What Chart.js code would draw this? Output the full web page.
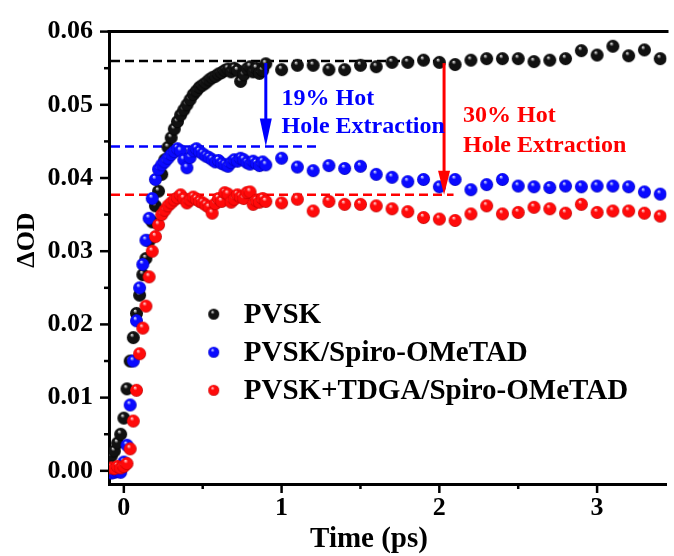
<!DOCTYPE html>
<html>
<head>
<meta charset="utf-8">
<script src="https://cdn.jsdelivr.net/npm/chart.js@4.4.1/dist/chart.umd.min.js"></script>
<style>
  html, body { margin: 0; padding: 0; background: #fff; overflow: hidden; }
  canvas { display: block; }
</style>
</head>
<body>
<canvas id="odChart" width="674" height="556"></canvas>
<script>
// time axis (ps): dense scan near zero, then 0.1 ps steps
const times = [
    -0.08, -0.06, -0.04, -0.02, 0.0, 0.02, 0.04, 0.06, 0.08, 0.1,
    0.12, 0.14, 0.16, 0.18, 0.2, 0.22, 0.24, 0.26, 0.28, 0.3,
    0.32, 0.34, 0.36, 0.38, 0.4, 0.42, 0.44, 0.46, 0.48, 0.5,
    0.52, 0.54, 0.56, 0.58, 0.6, 0.62, 0.64, 0.66, 0.68, 0.7,
    0.72, 0.74, 0.76, 0.78, 0.8, 0.82, 0.84, 0.86, 0.88, 0.9,
    1.0, 1.1, 1.2, 1.3, 1.4, 1.5, 1.6, 1.7, 1.8, 1.9,
    2.0, 2.1, 2.2, 2.3, 2.4, 2.5, 2.6, 2.7, 2.8, 2.9,
    3.0, 3.1, 3.2, 3.3, 3.4,
];

const pvsk = [
    0.0020, 0.0027, 0.0038, 0.0050, 0.0072, 0.0112, 0.0150, 0.0182, 0.0215, 0.0240,
    0.0268, 0.0290, 0.0314, 0.0340, 0.0362, 0.0382, 0.0405, 0.0425, 0.0442, 0.0455,
    0.0467, 0.0477, 0.0486, 0.0493, 0.0500, 0.0507, 0.0514, 0.0519, 0.0524, 0.0527,
    0.0530, 0.0534, 0.0537, 0.0539, 0.0542, 0.0544, 0.0547, 0.0549, 0.0545, 0.0550,
    0.0547, 0.0532, 0.0541, 0.0549, 0.0552, 0.0545, 0.0550, 0.0543, 0.0547, 0.0556,
    0.0548, 0.0554, 0.0554, 0.0548, 0.0548, 0.0554, 0.0552, 0.0558, 0.0558, 0.0561,
    0.0558, 0.0555, 0.0561, 0.0563, 0.0563, 0.0563, 0.0559, 0.0561, 0.0563, 0.0574,
    0.0568, 0.0580, 0.0567, 0.0575, 0.0563,
];

const pvskSpiro = [
    -0.0003, -0.0002, -0.0001, -0.0002, 0.0012, 0.0035, 0.0090, 0.0150, 0.0205, 0.0250,
    0.0282, 0.0315, 0.0345, 0.0372, 0.0398, 0.0412, 0.0418, 0.0422, 0.0427, 0.0432,
    0.0436, 0.0440, 0.0437, 0.0425, 0.0414, 0.0428, 0.0437, 0.0440, 0.0436, 0.0433,
    0.0430, 0.0428, 0.0425, 0.0422, 0.0424, 0.0420, 0.0418, 0.0416, 0.0421, 0.0425,
    0.0423, 0.0427, 0.0425, 0.0421, 0.0419, 0.0423, 0.0420, 0.0417, 0.0422, 0.0418,
    0.0427, 0.0415, 0.0410, 0.0417, 0.0413, 0.0416, 0.0405, 0.0401, 0.0395, 0.0398,
    0.0388, 0.0398, 0.0384, 0.0391, 0.0398, 0.0389, 0.0388, 0.0387, 0.0389, 0.0388,
    0.0389, 0.0389, 0.0388, 0.0381, 0.0378,
];

const pvskTdgaSpiro = [
    0.0004, 0.0003, 0.0006, 0.0004, 0.0006, 0.0010, 0.0030, 0.0068, 0.0110, 0.0160,
    0.0195, 0.0225, 0.0265, 0.0300, 0.0320, 0.0336, 0.0350, 0.0356, 0.0362, 0.0366,
    0.0370, 0.0373, 0.0377, 0.0372, 0.0366, 0.0370, 0.0374, 0.0371, 0.0368, 0.0366,
    0.0363, 0.0360, 0.0352, 0.0365, 0.0372, 0.0368, 0.0380, 0.0378, 0.0367, 0.0371,
    0.0377, 0.0374, 0.0372, 0.0380, 0.0381, 0.0364, 0.0369, 0.0367, 0.0372, 0.0368,
    0.0366, 0.0371, 0.0355, 0.0368, 0.0364, 0.0364, 0.0362, 0.0358, 0.0354, 0.0346,
    0.0344, 0.0342, 0.0351, 0.0362, 0.0351, 0.0353, 0.0360, 0.0358, 0.0352, 0.0364,
    0.0353, 0.0355, 0.0355, 0.0352, 0.0348,
];

const seriesLabels = ["PVSK", "PVSK/Spiro-OMeTAD", "PVSK+TDGA/Spiro-OMeTAD"];
const seriesColors = ["#000000", "#0000FF", "#FF0000"];

// reference levels and the drop annotations
const plateaus = [0.0560, 0.0443, 0.0377];
const dashEnds = [2.03, 1.22, 2.09];
const arrowTimes = [0.9, 2.03];
const arrowTexts = [["19% Hot", "Hole Extraction"], ["30% Hot", "Hole Extraction"]];

const serif = "'Liberation Serif', 'Times New Roman', serif";
Chart.defaults.font.family = serif;
Chart.defaults.font.weight = "bold";
Chart.defaults.color = "#000";

// shaded ball used as the marker
function makeBall(r, base, light, dark) {
    const c = document.createElement("canvas");
    const size = Math.ceil(r * 2) + 2;
    c.width = size;
    c.height = size;
    const g = c.getContext("2d");
    const cx = size / 2, cy = size / 2;
    const grad = g.createRadialGradient(cx - r * 0.25, cy - r * 0.45, r * 0.05, cx, cy, r);
    grad.addColorStop(0, light);
    grad.addColorStop(0.3, base);
    grad.addColorStop(0.85, base);
    grad.addColorStop(1, dark);
    g.fillStyle = grad;
    g.beginPath();
    g.arc(cx, cy, r, 0, Math.PI * 2);
    g.fill();
    return c;
}

const ballShades = [
    ["#111", "#e8e8e8", "#000"],
    ["#0a0aff", "#d8e0ff", "#0000a8"],
    ["#ff0a0a", "#ffd8d8", "#b00000"],
];
const dataBalls = ballShades.map((s) => makeBall(6.5, s[0], s[1], s[2]));
const legendBalls = ballShades.map((s) => makeBall(5.5, s[0], s[1], s[2]));

function toPoints(values) {
    return values.map((v, i) => ({ x: times[i], y: v }));
}

function isStep(v, step) {
    const q = v / step;
    return Math.abs(q - Math.round(q)) < 1e-6;
}

const extrasPlugin = {
    id: "extras",
    beforeDatasetsDraw(chart) {
        const { ctx, scales: { x, y } } = chart;
        ctx.save();
        ctx.lineWidth = 2.5;
        ctx.setLineDash([9, 5]);
        plateaus.forEach((level, i) => {
            const py = y.getPixelForValue(level);
            ctx.strokeStyle = seriesColors[i];
            ctx.beginPath();
            ctx.moveTo(chart.chartArea.left + 2, py);
            ctx.lineTo(x.getPixelForValue(dashEnds[i]), py);
            ctx.stroke();
        });
        ctx.restore();
    },
    afterDatasetsDraw(chart) {
        const { ctx, scales: { x, y } } = chart;
        ctx.save();
        // arrows: blue from PVSK to Spiro level, red from PVSK to TDGA level
        const arrows = [
            { t: arrowTimes[0], from: 0.0557, to: plateaus[1], color: seriesColors[1], head: 28 },
            { t: arrowTimes[1], from: 0.0557, to: plateaus[2], color: seriesColors[2], head: 24 },
        ];
        arrows.forEach((a) => {
            const px = x.getPixelForValue(a.t);
            const y0 = y.getPixelForValue(a.from);
            const y1 = y.getPixelForValue(a.to);
            ctx.strokeStyle = a.color;
            ctx.fillStyle = a.color;
            ctx.lineWidth = 3;
            ctx.beginPath();
            ctx.moveTo(px, y0);
            ctx.lineTo(px, y1 - a.head + 2);
            ctx.stroke();
            ctx.beginPath();
            ctx.moveTo(px - 6, y1 - a.head);
            ctx.lineTo(px + 6, y1 - a.head);
            ctx.lineTo(px, y1);
            ctx.closePath();
            ctx.fill();
        });

        ctx.font = "bold 24px " + serif;
        ctx.textAlign = "left";
        ctx.textBaseline = "alphabetic";
        ctx.fillStyle = seriesColors[1];
        ctx.fillText(arrowTexts[0][0], x.getPixelForValue(1.0), y.getPixelForValue(0.0500));
        ctx.fillText(arrowTexts[0][1], x.getPixelForValue(1.0), y.getPixelForValue(0.0461));
        ctx.fillStyle = seriesColors[2];
        ctx.fillText(arrowTexts[1][0], x.getPixelForValue(2.15), y.getPixelForValue(0.0476));
        ctx.fillText(arrowTexts[1][1], x.getPixelForValue(2.15), y.getPixelForValue(0.0436));

        // legend inside the plot
        const legendY = [0.0214, 0.0162, 0.0110];
        ctx.font = "bold 29px " + serif;
        ctx.fillStyle = "#000";
        seriesLabels.forEach((label, i) => {
            const py = y.getPixelForValue(legendY[i]);
            const ball = legendBalls[i];
            const bx = x.getPixelForValue(0.57);
            ctx.drawImage(ball, bx - ball.width / 2, py - ball.height / 2);
            ctx.fillText(label, x.getPixelForValue(0.76), py + 9);
        });
        ctx.restore();
    },
    afterDraw(chart) {
        const { ctx, chartArea, scales: { x, y } } = chart;
        ctx.save();
        ctx.strokeStyle = "#000";
        ctx.lineWidth = 3;
        ctx.beginPath();
        ctx.moveTo(chartArea.left - 1.5, chartArea.top);
        ctx.lineTo(chartArea.right + 2, chartArea.top);
        ctx.stroke();

        ctx.lineWidth = 2.5;
        y.ticks.forEach((t) => {
            if (!isStep(t.value, 0.005)) return;
            const py = y.getPixelForValue(t.value);
            const len = isStep(t.value, 0.01) ? 9 : 5;
            ctx.beginPath();
            ctx.moveTo(chartArea.left - len, py);
            ctx.lineTo(chartArea.left, py);
            ctx.stroke();
        });
        x.ticks.forEach((t) => {
            if (!isStep(t.value, 0.5)) return;
            const px = x.getPixelForValue(t.value);
            const len = isStep(t.value, 1) ? 9 : 5;
            ctx.beginPath();
            ctx.moveTo(px, chartArea.bottom);
            ctx.lineTo(px, chartArea.bottom + len);
            ctx.stroke();
        });

        // axis titles
        ctx.fillStyle = "#000";
        ctx.textAlign = "center";
        ctx.textBaseline = "middle";
        ctx.font = "bold 29px " + serif;
        ctx.fillText("Time (ps)", 369, 540);
        ctx.translate(27, 240);
        ctx.rotate(-Math.PI / 2);
        ctx.font = "bold 26px " + serif;
        ctx.fillText("\u0394OD", 0, 0);
        ctx.restore();
    },
};

const ctx = document.getElementById("odChart").getContext("2d");

const odChart = new Chart(ctx, {
    type: "scatter",
    data: {
        datasets: [
            {
                label: seriesLabels[0],
                data: toPoints(pvsk),
                pointStyle: dataBalls[0],
                pointRadius: 6.5,
                order: 3,
            },
            {
                label: seriesLabels[1],
                data: toPoints(pvskSpiro),
                pointStyle: dataBalls[1],
                pointRadius: 6.5,
                order: 2,
            },
            {
                label: seriesLabels[2],
                data: toPoints(pvskTdgaSpiro),
                pointStyle: dataBalls[2],
                pointRadius: 6.5,
                order: 1,
            },
        ],
    },
    options: {
        responsive: false,
        animation: false,
        devicePixelRatio: 1,
        layout: { padding: { top: 24, left: 0, right: 0, bottom: 0 } },
        plugins: {
            legend: { display: false },
            tooltip: { enabled: false },
        },
        scales: {
            x: {
                type: "linear",
                min: -0.094,
                max: 3.44,
                grid: { display: true, drawOnChartArea: false, drawTicks: false },
                border: { display: true, color: "#000", width: 3 },
                ticks: {
                    stepSize: 0.5,
                    includeBounds: false,
                    padding: 9,
                    maxRotation: 0,
                    autoSkip: false,
                    font: { size: 26, weight: "bold" },
                    color: "#000",
                    callback: (v) => (isStep(v, 1) ? String(Math.round(v)) : ""),
                },
                afterFit: (scale) => {
                    scale.height = 72;
                },
            },
            y: {
                type: "linear",
                min: -0.0018,
                max: 0.06,
                grid: { display: true, drawOnChartArea: false, drawTicks: false },
                border: { display: true, color: "#000", width: 3 },
                ticks: {
                    stepSize: 0.005,
                    includeBounds: false,
                    padding: 16,
                    autoSkip: false,
                    font: { size: 26, weight: "bold" },
                    color: "#000",
                    callback: (v) => (isStep(v, 0.01) ? v.toFixed(2) : ""),
                },
                afterFit: (scale) => {
                    scale.width = 109;
                },
            },
        },
    },
    plugins: [extrasPlugin],
});
</script>
</body>
</html>
